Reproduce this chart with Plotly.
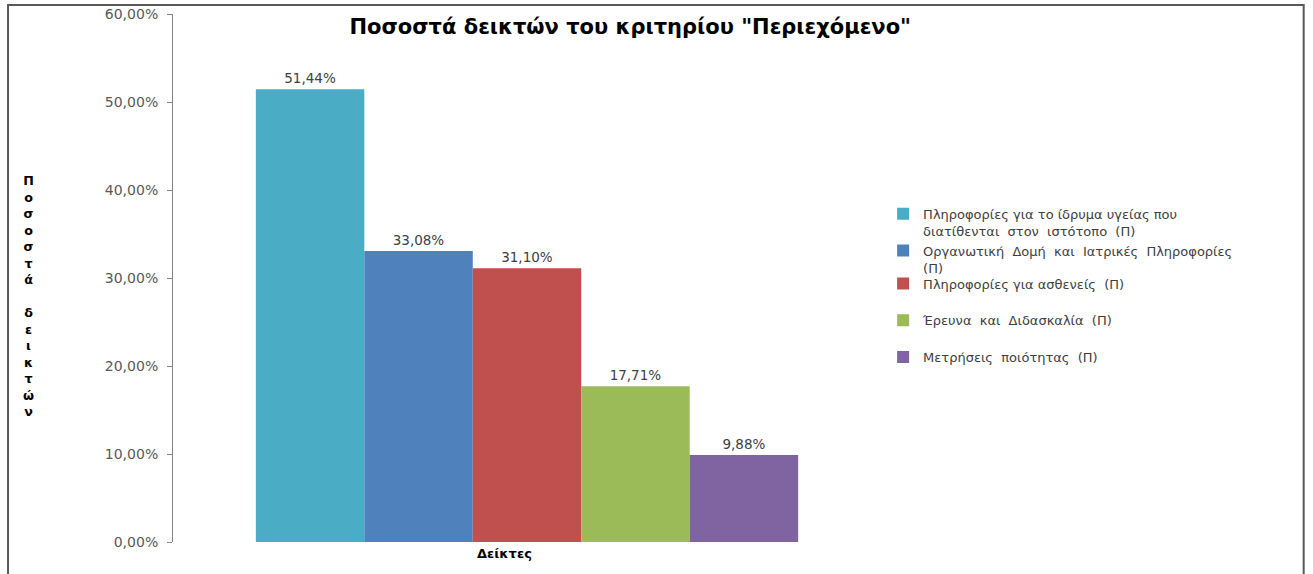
import plotly.graph_objects as go

category = ["Δείκτες"]
series_names = [
    "Πληροφορίες για το ίδρυμα υγείας που<br>διατίθενται  στον  ιστότοπο  (Π)",
    "Οργανωτική  Δομή  και  Ιατρικές  Πληροφορίες<br>(Π)",
    "Πληροφορίες για ασθενείς  (Π)<br> ",
    "Έρευνα  και  Διδασκαλία  (Π)<br> ",
    "Μετρήσεις  ποιότητας  (Π)<br> ",
]
values = [0.5144, 0.3308, 0.3110, 0.1771, 0.0988]
colors = ["#4BACC6", "#4F81BD", "#C0504D", "#9BBB59", "#8064A2"]
legend_ids = ["legend", "legend", "legend2", "legend2", "legend2"]
y_ticks = [0, 0.1, 0.2, 0.3, 0.4, 0.5, 0.6]
title_text = 'Ποσοστά δεικτών του κριτηρίου "Περιεχόμενο"'
y_title = "Ποσοστά δεικτών"

fig = go.Figure()
for i, (name, v, c, lg) in enumerate(zip(series_names, values, colors, legend_ids)):
    fig.add_trace(go.Bar(
        x=category, y=[v], name=name, marker=dict(color=c, line=dict(width=0)),
        text=[v], texttemplate="%{y:.2%}", textposition="outside",
        textfont=dict(family="DejaVu Sans", size=13.5, color="#404040"),
        cliponaxis=False, legend=lg,
    ))

legend_style = dict(
    xanchor="left", yanchor="top",
    font=dict(family="DejaVu Sans", size=13, color="#404040"),
    valign="top", tracegroupgap=0, itemwidth=30,
    bgcolor="rgba(0,0,0,0)",
)

fig.update_layout(
    width=1313, height=574,
    margin=dict(l=173, r=432, t=14, b=32, autoexpand=False),
    paper_bgcolor="white", plot_bgcolor="white",
    separators=",.",
    barmode="group", bargap=0.234, bargroupgap=0,
    showlegend=True,
    legend=dict(x=1.003, y=0.65, **legend_style),
    legend2=dict(x=1.003, y=0.518, **legend_style),
    title=dict(text="<b>" + title_text + "</b>", x=0.48, xanchor="center", y=0.953, yanchor="middle",
               font=dict(family="DejaVu Sans", size=21, color="#000000")),
    xaxis=dict(showticklabels=False, showline=False, ticks="", showgrid=False, zeroline=False,
               automargin=False),
    yaxis=dict(range=[0, 0.6], tickvals=y_ticks, tickformat=".2%",
               showline=True, linecolor="#868686", linewidth=1,
               ticks="outside", ticklen=5, tickcolor="#868686",
               tickfont=dict(family="DejaVu Sans", size=14, color="#595959"),
               showgrid=False, zeroline=False, ticklabelstandoff=6, automargin=False),
)

fig.add_annotation(
    text="<b>" + "<br>".join(list(y_title)) + "</b>",
    xref="paper", yref="paper", x=-0.2035, y=0.465, xanchor="center", yanchor="middle",
    showarrow=False, align="center",
    font=dict(family="DejaVu Sans", size=12.7, color="#000000"),
)
fig.add_annotation(
    text="<b>" + category[0] + "</b>",
    xref="paper", yref="paper", x=0.468, y=-0.004, xanchor="center", yanchor="top",
    showarrow=False, font=dict(family="DejaVu Sans", size=13, color="#000000"),
)
fig.add_shape(type="rect", xref="paper", yref="paper",
              x0=-0.233, x1=1.597, y0=-0.07, y1=1.017,
              line=dict(color="#595959", width=2), fillcolor="rgba(0,0,0,0)")

fig.write_html("out.html", config={"displayModeBar": False},
               post_script="document.body.style.margin='0px';")
